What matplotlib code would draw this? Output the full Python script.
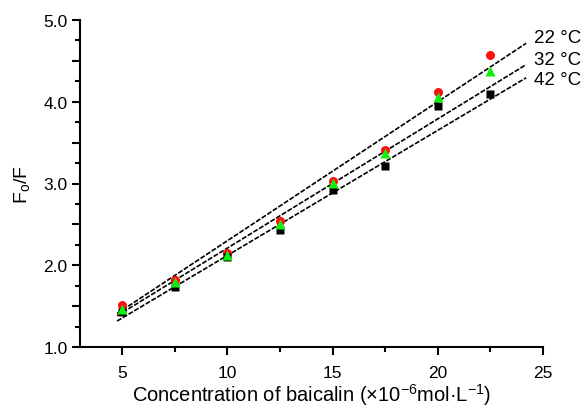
import matplotlib
matplotlib.use("Agg")
import matplotlib.pyplot as plt
import numpy as np
from matplotlib.ticker import MultipleLocator, FuncFormatter

plt.rcParams['font.family'] = ['Liberation Sans', 'DejaVu Sans']
plt.rcParams['mathtext.default'] = 'regular'

# concentration of baicalin (x10^-6 mol/L)
conc = [5, 7.5, 10, 12.5, 15, 17.5, 20, 22.5]
# F0/F at each temperature
f_22 = [1.51, 1.82, 2.15, 2.54, 3.03, 3.41, 4.12, 4.57]
f_32 = [1.47, 1.79, 2.12, 2.51, 3.01, 3.37, 4.06, 4.38]
f_42 = [1.43, 1.74, 2.10, 2.43, 2.92, 3.21, 3.95, 4.09]
temps = ["22 °C", "32 °C", "42 °C"]
# Stern-Volmer fit lines (slope, intercept)
slopes = [0.170, 0.158, 0.153]
intercepts = [0.60, 0.63, 0.59]
fit_range = (4.76, 24.2)

fig = plt.figure(figsize=(5.82, 4.10), dpi=100)
ax = fig.add_axes([0.1375, 0.151, 0.7955, 0.798])

xl = np.array(fit_range)
label_dy = [0.07, 0.06, -0.02]
for k, b, t, dy in zip(slopes, intercepts, temps, label_dy):
    yl = k*xl + b
    ax.plot(xl, yl, color='black', lw=1.2, ls=(0, (3, 1)), clip_on=False, zorder=2)
    ax.text(xl[1] + 0.35, yl[1] + dy, t, fontsize=13.5, ha='left', va='center')

ax.plot(conc, f_22, 'o', color='#ff1010', ms=6.5, mec='none', zorder=3)
ax.plot(conc, f_32, '^', color='#10f010', ms=7, mec='none', zorder=4)
ax.plot(conc, f_42, 's', color='black', ms=5.5, mec='none', zorder=3)

ax.set_xlim(3, 25)
ax.set_ylim(1.0, 5.0)
ax.spines['top'].set_visible(False)
ax.spines['right'].set_visible(False)
ax.spines['left'].set_linewidth(1.5)
ax.spines['bottom'].set_linewidth(1.5)

ax.xaxis.set_major_locator(MultipleLocator(5))
ax.xaxis.set_minor_locator(MultipleLocator(2.5))
ax.yaxis.set_major_locator(MultipleLocator(0.5))
ax.yaxis.set_minor_locator(MultipleLocator(0.25))
ax.yaxis.set_major_formatter(FuncFormatter(lambda v, p: "%.1f" % v if abs(v - round(v)) < 1e-6 else ""))
ax.tick_params(axis='both', which='major', direction='out', length=6, width=1.5, labelsize=12.5)
ax.tick_params(axis='both', which='minor', direction='out', length=3.5, width=1.5)
ax.tick_params(axis='y', pad=3)
ax.tick_params(axis='x', pad=7)

ax.set_xlabel("Concentration of baicalin (×10$^{-6}$mol·L$^{-1}$)", fontsize=14.5, labelpad=1)
ax.set_ylabel("F$_o$/F", fontsize=14, labelpad=8)

fig.savefig("out.png", dpi=100)
